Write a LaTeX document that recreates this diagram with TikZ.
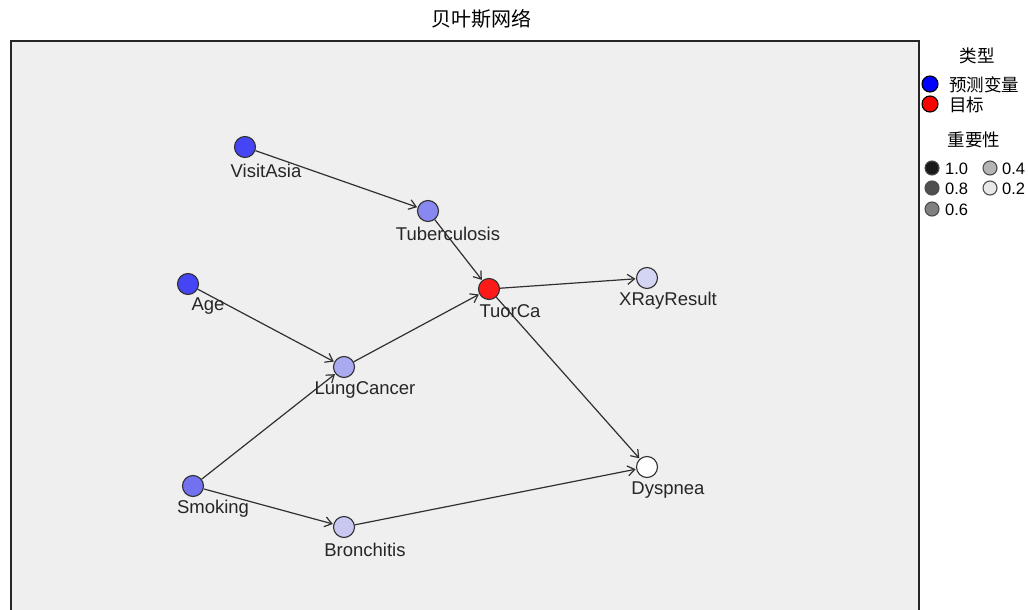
\documentclass[tikz,border=0pt]{standalone}
\usepackage{fontspec}
\setmainfont{Liberation Sans}
\newfontfamily\cjk{Noto Sans CJK SC}
\usetikzlibrary{arrows.meta}
\definecolor{panelbg}{HTML}{EFEFEF}
\definecolor{edgecol}{HTML}{303030}
\definecolor{cA}{HTML}{4545F5}
\definecolor{cS}{HTML}{7272F0}
\definecolor{cT}{HTML}{8888F0}
\definecolor{cL}{HTML}{AAAAF0}
\definecolor{cB}{HTML}{C8C8F2}
\definecolor{cX}{HTML}{D4D4F4}
\definecolor{cTarget}{HTML}{FF1A1A}
\definecolor{cLegBlue}{HTML}{0000FF}
\definecolor{cLegRed}{HTML}{FF0000}
\definecolor{i10}{HTML}{1A1A1A}
\definecolor{i08}{HTML}{505050}
\definecolor{i06}{HTML}{808080}
\definecolor{i04}{HTML}{B4B4B4}
\definecolor{i02}{HTML}{E8E8E8}
\tikzset{
  bn/.style={circle, draw=edgecol, line width=1.1pt, minimum size=21pt, inner sep=0pt},
  lab/.style={font=\fontsize{18.5pt}{20pt}\selectfont, text=black!85, inner sep=0pt},
  edge/.style={draw=edgecol, line width=1.2pt, -{Straight Barb[length=7pt,width=10pt,line width=1.2pt]}, shorten >=0.5pt},
  legc/.style={circle, draw=black, line width=1.1pt, minimum size=16pt, inner sep=0pt},
  impc/.style={circle, draw=black!70, line width=1.1pt, minimum size=14pt, inner sep=0pt},
  legt/.style={font=\cjk\fontsize{17.5pt}{19pt}\selectfont, inner sep=0pt},
  numt/.style={font=\fontsize{16.5pt}{18pt}\selectfont, inner sep=0pt, anchor=west},
}
\begin{document}
\begin{tikzpicture}[x=1pt, y=-1pt]
\useasboundingbox (0,0) rectangle (1028,610);
\fill[white] (0,0) rectangle (1028,610);
% panel
\begin{scope}
\clip (0,0) rectangle (1028,610);
\fill[panelbg] (11,41) rectangle (919,630);
\draw[black!60, line width=2.4pt] (11,41) rectangle (919,630);
\draw[black!85, line width=1.2pt] (11,41) rectangle (919,630);
\end{scope}
% title
\node[font=\cjk\fontsize{20pt}{22pt}\selectfont, inner sep=0pt] (title) at (481,19) {贝叶斯网络};
% nodes
\node[bn, fill=cA] (VisitAsia) at (245,147) {};
\node[bn, fill=cT] (Tuberculosis) at (428,211) {};
\node[bn, fill=cA] (Age) at (188,284) {};
\node[bn, fill=cTarget] (TuorCa) at (489,289) {};
\node[bn, fill=cX] (XRayResult) at (647,278) {};
\node[bn, fill=cL] (LungCancer) at (344,367) {};
\node[bn, fill=cS] (Smoking) at (193,486) {};
\node[bn, fill=cB] (Bronchitis) at (344,527) {};
\node[bn, fill=white] (Dyspnea) at (647,467) {};
% edges
\draw[edge] (VisitAsia) -- (Tuberculosis);
\draw[edge] (Tuberculosis) -- (TuorCa);
\draw[edge] (Age) -- (LungCancer);
\draw[edge] (LungCancer) -- (TuorCa);
\draw[edge] (Smoking) -- (LungCancer);
\draw[edge] (Smoking) -- (Bronchitis);
\draw[edge] (TuorCa) -- (XRayResult);
\draw[edge] (TuorCa) -- (Dyspnea);
\draw[edge] (Bronchitis) -- (Dyspnea);
% labels
\node[lab] (VisitAsia-l) at (266,170.5) {VisitAsia};
\node[lab] (Tuberculosis-l) at (448,233.5) {Tuberculosis};
\node[lab] (Age-l) at (208,306.5) {Age};
\node[lab] (TuorCa-l) at (510,311.5) {TuorCa};
\node[lab] (XRayResult-l) at (668,300.5) {XRayResult};
\node[lab] (LungCancer-l) at (365,389.5) {LungCancer};
\node[lab] (Smoking-l) at (213,508.5) {Smoking};
\node[lab] (Bronchitis-l) at (365,549.5) {Bronchitis};
\node[lab] (Dyspnea-l) at (668,490.5) {Dyspnea};
% legend
\node[legt] (typeT) at (977,56) {类型};
\node[legc, fill=cLegBlue] (legBlue) at (930,84) {};
\node[legt, anchor=west] (legBlueT) at (949,85) {预测变量};
\node[legc, fill=cLegRed] (legRed) at (930,104) {};
\node[legt, anchor=west] (legRedT) at (949,105) {目标};
\node[legt] (impT) at (974,140) {重要性};
\node[impc, fill=i10] (imp10) at (932,168) {};
\node[numt] (imp10T) at (945,169) {1.0};
\node[impc, fill=i08] (imp08) at (932,188) {};
\node[numt] (imp08T) at (945,189) {0.8};
\node[impc, fill=i06] (imp06) at (932,209) {};
\node[numt] (imp06T) at (945,210) {0.6};
\node[impc, fill=i04] (imp04) at (990,168) {};
\node[numt] (imp04T) at (1002,169) {0.4};
\node[impc, fill=i02] (imp02) at (990,188) {};
\node[numt] (imp02T) at (1002,189) {0.2};
\end{tikzpicture}
\end{document}
